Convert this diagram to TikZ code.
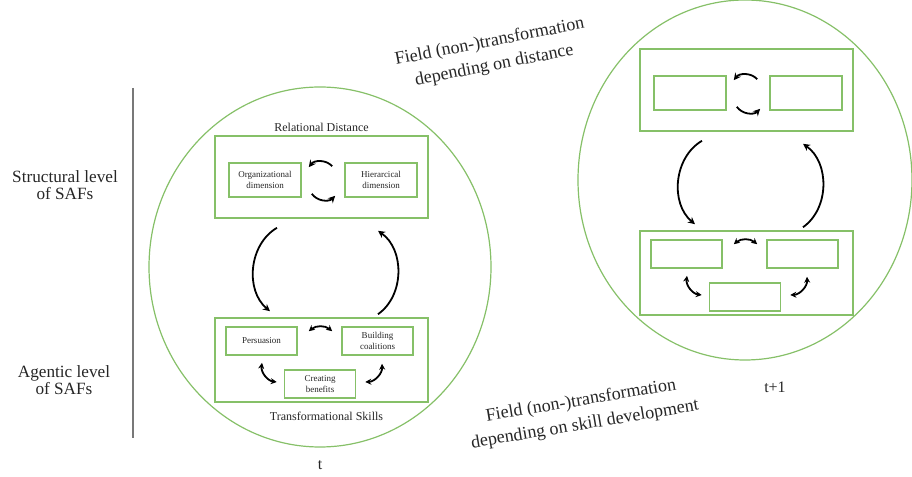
\documentclass[tikz,border=0pt]{standalone}
\usepackage{fontspec}
\setmainfont{Liberation Serif}
\usetikzlibrary{positioning, arrows.meta}
\definecolor{safgreen}{RGB}{134,192,104}
\definecolor{sepgray}{RGB}{120,120,120}
\tikzstyle{field} = [draw=safgreen, line width=0.6pt]
\tikzstyle{levelbox} = [
    rectangle,
    draw=safgreen,
    line width=0.8pt,
    minimum width=106.5pt,
    minimum height=41pt
]
\tikzstyle{dimbox} = [
    rectangle,
    draw=safgreen,
    line width=0.8pt,
    minimum width=36pt,
    minimum height=17pt,
    inner sep=0pt,
    align=center,
    text=black!85,
    font=\fontsize{4.5}{5.2}\selectfont
]
\tikzstyle{skillbox} = [dimbox, minimum width=35.5pt, minimum height=14pt]
\tikzstyle{caption} = [align=center, text=black!85, font=\fontsize{6}{7}\selectfont, inner sep=1pt]
\tikzstyle{sidelabel} = [align=center, text=black!85, font=\fontsize{8.6}{8.8}\selectfont]
\tikzstyle{fieldlabel} = [align=center, text=black!85, font=\fontsize{9}{12}\selectfont]
\tikzstyle{arrow} = [line width=0.9pt, -{Stealth[length=3.5pt, width=3.5pt]}]
\tikzstyle{dblarrow} = [line width=0.9pt, {Stealth[length=3pt, width=3pt]}-{Stealth[length=3pt, width=3pt]}]

\begin{document}
\begin{tikzpicture}[x=0.5pt, y=0.5pt]
\useasboundingbox (0,0) rectangle (912,477);

% fields at t and t+1
\draw [field] (320,210) ellipse [x radius=85.5pt, y radius=90pt];
\draw [field] (745,297) ellipse [x radius=83.5pt, y radius=90pt];

% levels of SAFs
\draw [sepgray, line width=0.7pt] (133,389) -- (133,39);
\node (structlbl) [sidelabel] at (65,292) {Structural level\\of SAFs};
\node (agentlbl) [sidelabel] at (64,97) {Agentic level\\of SAFs};

% field at t
\node (struct1) [levelbox] at (321.5,300) {};
\node (orgdim) [dimbox] at (265,297) {Organizational\\dimension};
\node (hierdim) [dimbox] at (381,297) {Hierarcical\\dimension};
\node (reldist) [caption, above=0.8pt of struct1] {Relational Distance};

\node (agent1) [levelbox, minimum height=42pt] at (321.5,117) {};
\node (persu) [skillbox] at (261.5,136) {Persuasion};
\node (coali) [skillbox] at (377.5,136) {Building\\coalitions};
\node (benef) [skillbox] at (320,93) {Creating\\benefits};
\node (transkills) [caption, below=3.5pt of agent1, xshift=2.5pt] {Transformational Skills};

\node (timet) [sidelabel, font=\fontsize{8}{9}\selectfont] at (320,12) {t};

\draw [arrow] ([shift={(-12,-4)}]hierdim.north west) to[bend right=50] ([shift={(7,-5)}]orgdim.north east);
\draw [arrow] ([shift={(10,4)}]orgdim.south east) to[bend right=50] ([shift={(-9,2)}]hierdim.south west);
\draw [arrow] ([shift={(-44.5,-9)}]struct1.south) to[bend right=55] ([shift={(-51.5,6)}]agent1.north);
\draw [arrow] ([shift={(56.5,3)}]agent1.north) to[bend right=55] ([shift={(56.5,-12)}]struct1.south);
\draw [dblarrow] ([shift={(11,-5)}]persu.north east) to[bend left=40] ([shift={(-9,-5)}]coali.north west);
\draw [dblarrow] ([shift={(0.5,-7)}]persu.south) to[bend right=45] ([shift={(-7,2)}]benef.west);
\draw [dblarrow] ([shift={(4.5,-8)}]coali.south) to[bend left=45] ([shift={(9,2)}]benef.east);

% field at t+1
\node (struct2) [levelbox] at (746.5,387) {};
\node (dimA) [dimbox] at (690,384) {};
\node (dimB) [dimbox] at (806,384) {};

\node (agent2) [levelbox, minimum height=42pt] at (746.5,204) {};
\node (skillA) [skillbox] at (686.5,223) {};
\node (skillB) [skillbox] at (802.5,223) {};
\node (skillC) [skillbox] at (745,180) {};

\node (timet1) [sidelabel, font=\fontsize{8}{9}\selectfont] at (775,90) {t+1};

\draw [arrow] ([shift={(-12,-4)}]dimB.north west) to[bend right=50] ([shift={(7,-5)}]dimA.north east);
\draw [arrow] ([shift={(10,4)}]dimA.south east) to[bend right=50] ([shift={(-9,2)}]dimB.south west);
\draw [arrow] ([shift={(-44.5,-9)}]struct2.south) to[bend right=55] ([shift={(-51.5,6)}]agent2.north);
\draw [arrow] ([shift={(56.5,3)}]agent2.north) to[bend right=55] ([shift={(56.5,-12)}]struct2.south);
\draw [dblarrow] ([shift={(11,-5)}]skillA.north east) to[bend left=40] ([shift={(-9,-5)}]skillB.north west);
\draw [dblarrow] ([shift={(0.5,-7)}]skillA.south) to[bend right=45] ([shift={(-7,2)}]skillC.west);
\draw [dblarrow] ([shift={(4.5,-8)}]skillB.south) to[bend left=45] ([shift={(9,2)}]skillC.east);

% field (non-)transformation
\node (fielddist) [fieldlabel, rotate=11] at (492,423) {Field (non-)transformation\\depending on distance};
\node (fieldskill) [fieldlabel, rotate=9.5] at (583,64) {Field (non-)transformation\\depending on skill development};

\end{tikzpicture}
\end{document}
